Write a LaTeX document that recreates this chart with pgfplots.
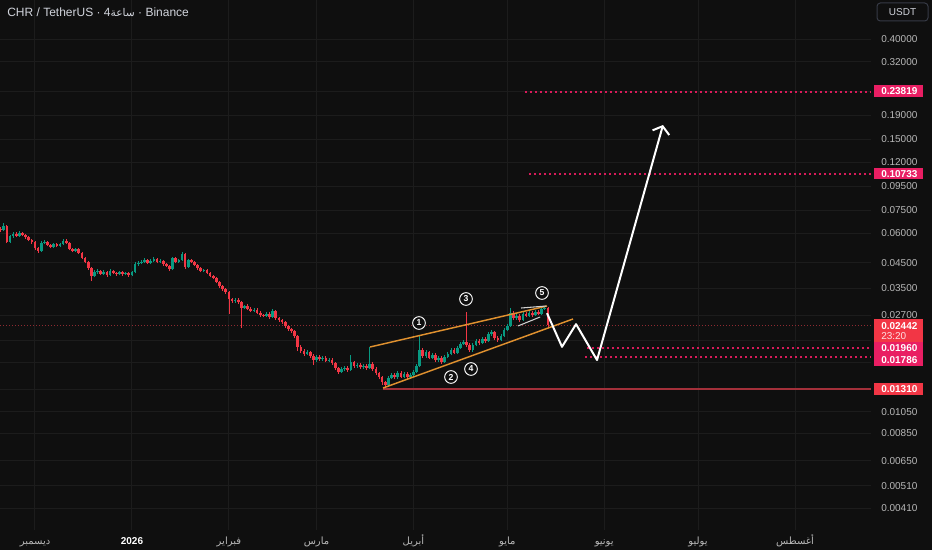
\documentclass[border=0pt]{standalone}
\usepackage{fontspec}
\setmainfont{Liberation Sans}
\newfontfamily\arabicfont[Script=Arabic]{DejaVu Sans}
\TeXXeTstate=1
\usepackage{pgfplots}
\pgfplotsset{compat=1.18}
\usepackage{pgfplotstable}
\usetikzlibrary{arrows.meta}
\definecolor{bgc}{HTML}{0F0F0F}
\definecolor{gridc}{HTML}{1C1C1C}
\definecolor{tickc}{HTML}{B8B8B8}
\definecolor{titlec}{HTML}{D1D4DC}
\definecolor{upc}{HTML}{089981}
\definecolor{dnc}{HTML}{F23645}
\definecolor{pinkc}{HTML}{E91E63}
\definecolor{dotc}{HTML}{D81B5A}
\definecolor{redc}{HTML}{F23645}
\definecolor{orc}{HTML}{E0912F}
\definecolor{curc}{HTML}{8E2A31}
\definecolor{supc}{HTML}{A3303A}
\definecolor{wedc}{HTML}{D0D0D0}
\definecolor{usdc}{HTML}{363A45}

\pgfplotstableread{
d o h l c
-11 0.0625 0.0638 0.0607 0.0619
-10 0.0619 0.0663 0.0612 0.0644
-9 0.0644 0.0650 0.0545 0.0551
-8 0.0551 0.0592 0.0545 0.0584
-7 0.0584 0.0606 0.0575 0.0596
-6 0.0596 0.0605 0.0576 0.0584
-5 0.0584 0.0612 0.0578 0.0602
-4 0.0602 0.0610 0.0582 0.0590
-3 0.0590 0.0598 0.0570 0.0579
-2 0.0579 0.0585 0.0555 0.0562
-1 0.0562 0.0570 0.0543 0.0551
0 0.0551 0.0556 0.0512 0.0520
1 0.0520 0.0526 0.0497 0.0505
2 0.0505 0.0555 0.0500 0.0546
3 0.0546 0.0562 0.0540 0.0551
4 0.0551 0.0558 0.0528 0.0535
5 0.0535 0.0542 0.0518 0.0525
6 0.0525 0.0548 0.0519 0.0540
7 0.0540 0.0547 0.0523 0.0530
8 0.0530 0.0548 0.0524 0.0540
9 0.0540 0.0566 0.0535 0.0557
10 0.0557 0.0565 0.0540 0.0546
11 0.0546 0.0551 0.0508 0.0515
12 0.0515 0.0522 0.0498 0.0505
13 0.0505 0.0522 0.0499 0.0515
14 0.0515 0.0520 0.0489 0.0495
15 0.0495 0.0500 0.0465 0.0471
16 0.0471 0.0477 0.0447 0.0453
17 0.0453 0.0458 0.0420 0.0427
18 0.0427 0.0432 0.0376 0.0395
19 0.0395 0.0418 0.0390 0.0411
20 0.0411 0.0422 0.0405 0.0415
21 0.0415 0.0421 0.0398 0.0403
22 0.0403 0.0418 0.0398 0.0411
23 0.0411 0.0416 0.0393 0.0399
24 0.0399 0.0422 0.0394 0.0415
25 0.0415 0.0420 0.0402 0.0407
26 0.0407 0.0413 0.0397 0.0403
27 0.0403 0.0417 0.0398 0.0411
28 0.0411 0.0416 0.0397 0.0403
29 0.0403 0.0413 0.0398 0.0407
30 0.0407 0.0412 0.0393 0.0399
31 0.0399 0.0417 0.0394 0.0411
32 0.0411 0.0452 0.0406 0.0444
33 0.0444 0.0457 0.0438 0.0449
34 0.0449 0.0461 0.0443 0.0453
35 0.0453 0.0470 0.0447 0.0462
36 0.0462 0.0468 0.0443 0.0449
37 0.0449 0.0465 0.0444 0.0458
38 0.0458 0.0475 0.0452 0.0467
39 0.0467 0.0472 0.0447 0.0453
40 0.0453 0.0465 0.0448 0.0458
41 0.0458 0.0463 0.0438 0.0444
42 0.0444 0.0450 0.0430 0.0436
43 0.0436 0.0441 0.0417 0.0423
44 0.0423 0.0478 0.0418 0.0471
45 0.0471 0.0476 0.0447 0.0453
46 0.0453 0.0469 0.0448 0.0462
47 0.0462 0.0500 0.0457 0.0490
48 0.0490 0.0494 0.0425 0.0432
49 0.0432 0.0468 0.0428 0.0462
50 0.0462 0.0467 0.0448 0.0453
51 0.0453 0.0458 0.0435 0.0440
52 0.0440 0.0445 0.0421 0.0427
53 0.0427 0.0432 0.0410 0.0415
54 0.0415 0.0425 0.0410 0.0419
55 0.0419 0.0424 0.0402 0.0407
56 0.0407 0.0412 0.0390 0.0395
57 0.0395 0.0400 0.0383 0.0388
58 0.0388 0.0393 0.0368 0.0373
59 0.0373 0.0378 0.0353 0.0358
60 0.0358 0.0362 0.0343 0.0348
61 0.0348 0.0352 0.0333 0.0338
62 0.0338 0.0342 0.0273 0.0316
63 0.0316 0.0320 0.0305 0.0309
64 0.0309 0.0318 0.0305 0.0313
65 0.0313 0.0318 0.0302 0.0306
66 0.0306 0.0310 0.0238 0.0290
67 0.0290 0.0299 0.0286 0.0295
68 0.0295 0.0300 0.0283 0.0287
69 0.0287 0.0291 0.0277 0.0281
70 0.0281 0.0288 0.0277 0.0284
71 0.0284 0.0288 0.0272 0.0276
72 0.0276 0.0280 0.0266 0.0270
73 0.0270 0.0274 0.0264 0.0268
74 0.0268 0.0278 0.0265 0.0273
75 0.0273 0.0277 0.0261 0.0265
76 0.0265 0.0286 0.0262 0.0281
77 0.0281 0.0284 0.0258 0.0262
78 0.0262 0.0266 0.0253 0.0257
79 0.0257 0.0261 0.0248 0.0252
80 0.0252 0.0255 0.0239 0.0243
81 0.0243 0.0246 0.0232 0.0236
82 0.0236 0.0239 0.0227 0.0231
83 0.0231 0.0234 0.0215 0.0220
84 0.0220 0.0223 0.0190 0.0198
85 0.0198 0.0202 0.0186 0.0190
86 0.0190 0.0194 0.0181 0.0185
87 0.0185 0.0192 0.0182 0.0188
88 0.0188 0.0191 0.0178 0.0181
89 0.0181 0.0184 0.0166 0.0174
90 0.0174 0.0183 0.0171 0.0180
91 0.0180 0.0183 0.0173 0.0176
92 0.0176 0.0181 0.0173 0.0178
93 0.0178 0.0181 0.0170 0.0173
94 0.0173 0.0177 0.0170 0.0174
95 0.0174 0.0177 0.0166 0.0169
96 0.0169 0.0171 0.0158 0.0161
97 0.0161 0.0163 0.0152 0.0155
98 0.0155 0.0163 0.0153 0.0160
99 0.0160 0.0164 0.0157 0.0161
100 0.0161 0.0164 0.0155 0.0158
101 0.0158 0.0183 0.0156 0.0171
102 0.0171 0.0173 0.0161 0.0164
103 0.0164 0.0169 0.0161 0.0166
104 0.0166 0.0169 0.0160 0.0163
105 0.0163 0.0167 0.0160 0.0164
106 0.0164 0.0167 0.0158 0.0161
107 0.0161 0.0198 0.0159 0.0168
108 0.0168 0.0171 0.0157 0.0160
109 0.0160 0.0162 0.0150 0.0153
110 0.0153 0.0155 0.0144 0.0147
111 0.0147 0.0149 0.0137 0.0140
112 0.0140 0.0142 0.0132 0.0136
113 0.0136 0.0149 0.0134 0.0146
114 0.0146 0.0153 0.0144 0.0150
115 0.0150 0.0153 0.0144 0.0147
116 0.0147 0.0156 0.0145 0.0153
117 0.0153 0.0156 0.0146 0.0148
118 0.0148 0.0155 0.0146 0.0152
119 0.0152 0.0155 0.0145 0.0147
120 0.0147 0.0153 0.0145 0.0150
121 0.0150 0.0158 0.0148 0.0155
122 0.0155 0.0168 0.0153 0.0164
123 0.0164 0.0222 0.0162 0.0192
124 0.0192 0.0196 0.0178 0.0181
125 0.0181 0.0192 0.0178 0.0188
126 0.0188 0.0191 0.0175 0.0178
127 0.0178 0.0187 0.0175 0.0183
128 0.0183 0.0186 0.0171 0.0174
129 0.0174 0.0181 0.0171 0.0178
130 0.0178 0.0181 0.0168 0.0171
131 0.0171 0.0183 0.0169 0.0180
132 0.0180 0.0189 0.0177 0.0185
133 0.0185 0.0196 0.0182 0.0192
134 0.0192 0.0196 0.0184 0.0187
135 0.0187 0.0200 0.0184 0.0196
136 0.0196 0.0208 0.0193 0.0204
137 0.0204 0.0212 0.0201 0.0208
138 0.0208 0.0277 0.0198 0.0202
139 0.0202 0.0205 0.0189 0.0192
140 0.0192 0.0206 0.0189 0.0202
141 0.0202 0.0214 0.0199 0.0210
142 0.0210 0.0214 0.0202 0.0206
143 0.0206 0.0218 0.0203 0.0214
144 0.0214 0.0218 0.0206 0.0210
145 0.0210 0.0228 0.0207 0.0224
146 0.0224 0.0233 0.0220 0.0229
147 0.0229 0.0232 0.0212 0.0216
148 0.0216 0.0220 0.0208 0.0212
149 0.0212 0.0224 0.0209 0.0220
150 0.0220 0.0237 0.0217 0.0233
151 0.0233 0.0248 0.0230 0.0243
152 0.0243 0.0289 0.0240 0.0276
153 0.0276 0.0280 0.0257 0.0262
154 0.0262 0.0273 0.0258 0.0268
155 0.0268 0.0272 0.0253 0.0257
156 0.0257 0.0278 0.0254 0.0273
157 0.0273 0.0277 0.0264 0.0268
158 0.0268 0.0281 0.0265 0.0276
159 0.0276 0.0280 0.0266 0.0270
160 0.0270 0.0284 0.0267 0.0279
161 0.0279 0.0283 0.0269 0.0273
162 0.0273 0.0291 0.0270 0.0287
163 0.0287 0.0296 0.0284 0.0290
164 0.0290 0.0292 0.0241 0.02442
}\candles

\pgfplotstablegetrowsof{\candles}
\pgfmathtruncatemacro\lastrow{\pgfplotsretval-1}
\def\upw{}\def\upb{}\def\dnw{}\def\dnb{}
\pgfplotsforeachungrouped \i in {0,...,\lastrow}{%
  \pgfplotstablegetelem{\i}{d}\of\candles \let\cd\pgfplotsretval
  \pgfplotstablegetelem{\i}{o}\of\candles \let\co\pgfplotsretval
  \pgfplotstablegetelem{\i}{h}\of\candles \let\ch\pgfplotsretval
  \pgfplotstablegetelem{\i}{l}\of\candles \let\cl\pgfplotsretval
  \pgfplotstablegetelem{\i}{c}\of\candles \let\cc\pgfplotsretval
  \ifdim\cc pt<\co pt
    \edef\dnw{\dnw (\cd,\cl) (\cd,\ch) (\cd,nan)}%
    \edef\dnb{\dnb (\cd,\co) (\cd,\cc) (\cd,nan)}%
  \else
    \edef\upw{\upw (\cd,\cl) (\cd,\ch) (\cd,nan)}%
    \edef\upb{\upb (\cd,\co) (\cd,\cc) (\cd,nan)}%
  \fi
}

\newcommand\AR[1]{{\arabicfont\beginR #1\endR}}
\newcommand\fs{\fontsize{7.5}{9}\selectfont}

\begin{document}
\begin{tikzpicture}
\fill[bgc] (0,0) rectangle (699pt,412.5pt);
\begin{axis}[
  at={(0pt,412.5pt)}, anchor=north west,
  scale only axis, width=653.25pt, height=397.5pt,
  xmin=-11.19, xmax=267.3,
  ymode=log, ymin=0.003309, ymax=0.5855,
  axis line style={draw=none},
  major tick length=0pt, tick style={draw=none},
  xtick={0,31,62,90,121,151,182,212,243},
  xticklabels={\AR{ديسمبر},{\bfseries\color{white}2026},\AR{فبراير},\AR{مارس},\AR{أبريل},\AR{مايو},\AR{يونيو},\AR{يوليو},\AR{أغسطس}},
  ytick={0.0041,0.0051,0.0065,0.0085,0.0105,0.027,0.035,0.045,0.06,0.075,0.095,0.12,0.15,0.19,0.32,0.40},
  yticklabels={0.00410,0.00510,0.00650,0.00850,0.01050,0.02700,0.03500,0.04500,0.06000,0.07500,0.09500,0.12000,0.15000,0.19000,0.32000,0.40000},
  extra y ticks={0.013,0.017,0.021,0.24},
  extra y tick labels={},
  extra y tick style={grid=major},
  yticklabel pos=right,
  yticklabel style={anchor=west, inner sep=0pt, xshift=7.5pt, font=\fs, text=tickc},
  xticklabel style={anchor=base, inner sep=0pt, yshift=-10.5pt, font=\fs, text=tickc},
  grid=major,
  grid style={draw=gridc, line width=0.75pt},
]
% current price line
\addplot[draw=curc, line width=0.75pt, dash pattern=on 0.75pt off 1.5pt, forget plot] coordinates {(-11.19,0.02442) (267.3,0.02442)};
% support line
\addplot[draw=supc, line width=1.5pt, forget plot] coordinates {(111.3,0.0131) (267.3,0.0131)};
% target / level lines
\addplot[draw=dotc, line width=1.5pt, dash pattern=on 1.5pt off 2.25pt, forget plot] coordinates {(156.7,0.23819) (267.3,0.23819)};
\addplot[draw=dotc, line width=1.5pt, dash pattern=on 1.5pt off 2.25pt, forget plot] coordinates {(157.9,0.10733) (267.3,0.10733)};
\addplot[draw=dotc, line width=1.5pt, dash pattern=on 1.5pt off 2.25pt, forget plot] coordinates {(176.5,0.0196) (267.3,0.0196)};
\addplot[draw=dotc, line width=1.5pt, dash pattern=on 1.5pt off 2.25pt, forget plot] coordinates {(175.9,0.01786) (267.3,0.01786)};
% candles
\edef\tmp{\noexpand\addplot[draw=upc, line width=0.6pt, unbounded coords=jump, forget plot] coordinates {\upw};}\tmp
\edef\tmp{\noexpand\addplot[draw=dnc, line width=0.6pt, unbounded coords=jump, forget plot] coordinates {\dnw};}\tmp
\edef\tmp{\noexpand\addplot[draw=upc, line width=2pt, unbounded coords=jump, forget plot] coordinates {\upb};}\tmp
\edef\tmp{\noexpand\addplot[draw=dnc, line width=2pt, unbounded coords=jump, forget plot] coordinates {\dnb};}\tmp
% channel
\addplot[draw=orc, line width=1.1pt, forget plot] coordinates {(107.1,0.01976) (163.7,0.02949)};
\addplot[draw=orc, line width=1.1pt, forget plot] coordinates {(111.27,0.01324) (172.02,0.02598)};
% wedge
\addplot[draw=wedc, line width=0.8pt, forget plot] coordinates {(155.4,0.02892) (163.4,0.02949)};
\addplot[draw=wedc, line width=0.8pt, forget plot] coordinates {(154.4,0.02426) (161.5,0.02649)};
% projected path
\addplot[draw=white, line width=1.5pt, line join=round, -{Straight Barb[length=5pt,width=13pt]}, forget plot] coordinates {(163.7,0.0275) (168.5,0.0198) (173.0,0.0247) (179.7,0.0174) (200.8,0.1727)};
\end{axis}
\begin{scope}[x=0.75pt,y=-0.75pt,shift={(0pt,412.5pt)}]
  \node[anchor=west, inner sep=0pt, text=titlec, font=\fontsize{9}{10}\selectfont] at (7,12) {CHR / TetherUS · 4{\arabicfont\fontsize{8}{10}\selectfont\beginR ساعة\endR} · Binance};
  \draw[usdc, line width=0.75pt, rounded corners=2.5pt] (877,3) rectangle (928,21);
  \node[inner sep=0pt, text=titlec, font=\fs] at (902.5,12.5) {USDT};
  \tikzset{lab/.style={anchor=west, inner sep=0pt, text=white, font=\bfseries\fs}}
  \fill[pinkc] (874,85.5) rectangle (923,97);
  \node[lab] at (881,91.3) {0.23819};
  \fill[pinkc] (874,168) rectangle (923,179.5);
  \node[lab] at (881,173.8) {0.10733};
  \fill[redc] (874,319) rectangle (923,342);
  \node[lab] at (881,326) {0.02442};
  \node[anchor=west, inner sep=0pt, text=white!85!redc, font=\fs] at (881,336) {23:20};
  \fill[pinkc] (874,342) rectangle (923,366);
  \node[lab] at (881,348) {0.01960};
  \node[lab] at (881,360.5) {0.01786};
  \fill[redc] (874,383) rectangle (923,395);
  \node[lab] at (881,389) {0.01310};
  \tikzset{wave/.style={circle, draw=white, line width=0.7pt, fill=bgc, minimum size=9.5pt, inner sep=0pt, text=white, font=\bfseries\fontsize{6.5}{7}\selectfont}}
  \node[wave] at (419,323) {1};
  \node[wave] at (451,377) {2};
  \node[wave] at (466,299) {3};
  \node[wave] at (471,369) {4};
  \node[wave] at (542,293) {5};
\end{scope}
\pgfresetboundingbox
\path[use as bounding box] (0,0) rectangle (699pt,412.5pt);
\end{tikzpicture}
\end{document}
